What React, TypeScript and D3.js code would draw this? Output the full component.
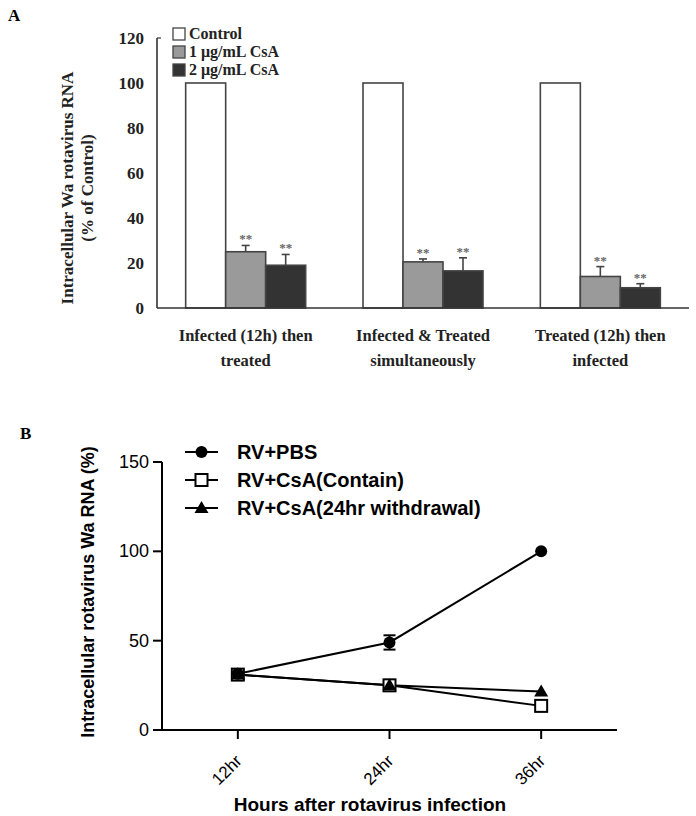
import * as d3 from "d3";

// Panel A data
const groupsA = ["g1", "g2", "g3"];
const groupLines = [
  ["Infected (12h) then", "treated"],
  ["Infected & Treated", "simultaneously"],
  ["Treated (12h) then", "infected"],
];
const seriesA = ["Control", "1 μg/mL CsA", "2 μg/mL CsA"];
const controlVals = [100, 100, 100];
const csa1Vals = [25, 20.5, 14];
const csa1Err = [2.8, 1.3, 4.4];
const csa2Vals = [19, 16.5, 9];
const csa2Err = [4.8, 5.8, 1.8];
const ticksA = [0, 20, 40, 60, 80, 100, 120];

// Panel B data
const timesB = ["12hr", "24hr", "36hr"];
const pbsVals = [31.5, 49, 100];
const pbsErr = [0, 4, 0];
const containVals = [31, 25, 13.5];
const withdrawVals = [31, 25, 21.5];
const ticksB = [0, 50, 100, 150];
const legendB = ["RV+PBS", "RV+CsA(Contain)", "RV+CsA(24hr withdrawal)"];

const fillsA = ["#ffffff", "#9a9a9a", "#333333"];
const serif = "'Liberation Serif', 'Times New Roman', serif";
const sans = "'Liberation Sans', Arial, sans-serif";

export default function App() {
  // ---- panel A scales
  const yA = d3.scaleLinear().domain([0, 120]).range([308, 38]);
  const x0A = d3.scaleBand().domain(groupsA).range([157, 689]);
  const x1A = d3.scaleBand().domain(seriesA).range([-60, 60]);
  const valsA = [controlVals, csa1Vals, csa2Vals];
  const errsA = [null, csa1Err, csa2Err];

  // ---- panel B scales
  const xB = d3.scalePoint().domain(timesB).range([162, 617]).padding(0.5);
  const yB = d3.scaleLinear().domain([0, 150]).range([730, 462]);
  const line = d3
    .line<number>()
    .x((_, i) => xB(timesB[i])!)
    .y((d) => yB(d));

  const circle = (x: number, y: number, k: string) => (
    <circle key={k} cx={x} cy={y} r={6} fill="#000" />
  );
  const square = (x: number, y: number, k: string) => (
    <rect key={k} x={x - 6} y={y - 6} width={12} height={12} fill="#fff" stroke="#000" strokeWidth={2} />
  );
  const tri = (x: number, y: number, k: string) => (
    <path key={k} d={`M${x},${y - 7}L${x + 7},${y + 5}L${x - 7},${y + 5}Z`} fill="#000" />
  );
  const markers = [circle, square, tri];

  return (
    <svg
      width={696}
      height={816}
      style={{ position: "absolute", left: 0, top: 0, background: "#fff" }}
    >
      {/* ================= Panel A ================= */}
      <text x={8} y={21} fontFamily={serif} fontWeight="bold" fontSize={17}>A</text>

      {/* bars */}
      {groupsA.map((g, gi) => (
        <g key={g} transform={`translate(${x0A(g)! + x0A.bandwidth() / 2},0)`}>
          {seriesA.map((s, si) => {
            const v = valsA[si][gi];
            const bx = x1A(s)!;
            const bw = x1A.bandwidth();
            const err = errsA[si];
            return (
              <g key={s}>
                <rect
                  x={bx}
                  y={yA(v)}
                  width={bw}
                  height={yA(0) - yA(v)}
                  fill={fillsA[si]}
                  stroke="#444"
                  strokeWidth={1.6}
                />
                {err && (
                  <g stroke="#444" strokeWidth={1.6}>
                    <line x1={bx + bw / 2} x2={bx + bw / 2} y1={yA(v)} y2={yA(v + err[gi])} />
                    <line x1={bx + bw / 2 - 4} x2={bx + bw / 2 + 4} y1={yA(v + err[gi])} y2={yA(v + err[gi])} />
                  </g>
                )}
                {err && (
                  <text
                    x={bx + bw / 2}
                    y={yA(v + err[gi]) - 2}
                    textAnchor="middle"
                    fontFamily={serif}
                    fontWeight="bold"
                    fontSize={13}
                    fill="#666"
                  >
                    **
                  </text>
                )}
              </g>
            );
          })}
          {groupLines[gi].map((t, li) => (
            <text
              key={li}
              x={0}
              y={341 + li * 25}
              textAnchor="middle"
              fontFamily={serif}
              fontWeight="bold"
              fontSize={16.5}
              fill="#222"
            >
              {t}
            </text>
          ))}
        </g>
      ))}

      {/* axes A */}
      <line x1={157} x2={157} y1={yA(120)} y2={yA(0)} stroke="#333" strokeWidth={1.6} />
      <line x1={157} x2={689} y1={yA(0)} y2={yA(0)} stroke="#333" strokeWidth={1.6} />
      <line x1={157} x2={161} y1={yA(120)} y2={yA(120)} stroke="#333" strokeWidth={1.2} />
      {ticksA.map((t) => (
        <text
          key={t}
          x={144}
          y={yA(t) + 6}
          textAnchor="end"
          fontFamily={serif}
          fontWeight="bold"
          fontSize={17}
          fill="#222"
        >
          {t}
        </text>
      ))}
      <g transform="translate(73,188) rotate(-90)" fontFamily={serif} fontWeight="bold" fontSize={17} fill="#222">
        <text x={0} y={0} textAnchor="middle">Intracellular Wa rotavirus RNA</text>
        <text x={0} y={20} textAnchor="middle">(% of Control)</text>
      </g>

      {/* legend A */}
      {seriesA.map((s, i) => (
        <g key={s} transform={`translate(173,${34 + i * 18})`}>
          <rect x={0} y={-6} width={12} height={12} fill={fillsA[i]} stroke="#444" strokeWidth={1.3} />
          <text x={16} y={5} fontFamily={serif} fontWeight="bold" fontSize={16} fill="#222">{s}</text>
        </g>
      ))}

      {/* ================= Panel B ================= */}
      <text x={20} y={439} fontFamily={serif} fontWeight="bold" fontSize={17}>B</text>

      {/* axes B */}
      <line x1={162} x2={162} y1={yB(150)} y2={yB(0)} stroke="#000" strokeWidth={2} />
      <line x1={162} x2={617} y1={yB(0)} y2={yB(0)} stroke="#000" strokeWidth={2} />
      {ticksB.map((t) => (
        <g key={t}>
          <line x1={153} x2={162} y1={yB(t)} y2={yB(t)} stroke="#000" strokeWidth={2} />
          <text x={149} y={yB(t) + 6} textAnchor="end" fontFamily={sans} fontSize={18}>{t}</text>
        </g>
      ))}
      {timesB.map((t) => (
        <g key={t}>
          <line x1={xB(t)} x2={xB(t)} y1={yB(0)} y2={yB(0) + 9} stroke="#000" strokeWidth={2} />
          <text
            transform={`translate(${xB(t)! + 5},${yB(0) + 32}) rotate(-45)`}
            textAnchor="end"
            fontFamily={sans}
            fontSize={17}
          >
            {t}
          </text>
        </g>
      ))}
      <text
        transform="translate(94,592) rotate(-90)"
        textAnchor="middle"
        fontFamily={sans}
        fontWeight="bold"
        fontSize={18}
      >
        Intracellular rotavirus Wa RNA (%)
      </text>
      <text x={370} y={811} textAnchor="middle" fontFamily={sans} fontWeight="bold" fontSize={19}>
        Hours after rotavirus infection
      </text>

      {/* lines B */}
      <path d={line(containVals)!} fill="none" stroke="#000" strokeWidth={2} />
      <path d={line(withdrawVals)!} fill="none" stroke="#000" strokeWidth={2} />
      <path d={line(pbsVals)!} fill="none" stroke="#000" strokeWidth={2} />
      {pbsVals.map((v, i) =>
        pbsErr[i] > 0 ? (
          <g key={i} stroke="#000" strokeWidth={2}>
            <line x1={xB(timesB[i])} x2={xB(timesB[i])} y1={yB(v - pbsErr[i])} y2={yB(v + pbsErr[i])} />
            <line x1={xB(timesB[i])! - 6} x2={xB(timesB[i])! + 6} y1={yB(v - pbsErr[i])} y2={yB(v - pbsErr[i])} />
            <line x1={xB(timesB[i])! - 6} x2={xB(timesB[i])! + 6} y1={yB(v + pbsErr[i])} y2={yB(v + pbsErr[i])} />
          </g>
        ) : null
      )}
      {containVals.map((v, i) => square(xB(timesB[i])!, yB(v), `s${i}`))}
      {withdrawVals.map((v, i) => tri(xB(timesB[i])!, yB(v), `t${i}`))}
      {pbsVals.map((v, i) => circle(xB(timesB[i])!, yB(v), `c${i}`))}

      {/* legend B */}
      {legendB.map((s, i) => (
        <g key={s} transform={`translate(185,${452 + i * 28})`}>
          <line x1={0} x2={33} y1={0} y2={0} stroke="#000" strokeWidth={2} />
          {markers[i](16.5, 0, `lm${i}`)}
          <text x={52} y={7} fontFamily={sans} fontWeight="bold" fontSize={20}>{s}</text>
        </g>
      ))}
    </svg>
  );
}
